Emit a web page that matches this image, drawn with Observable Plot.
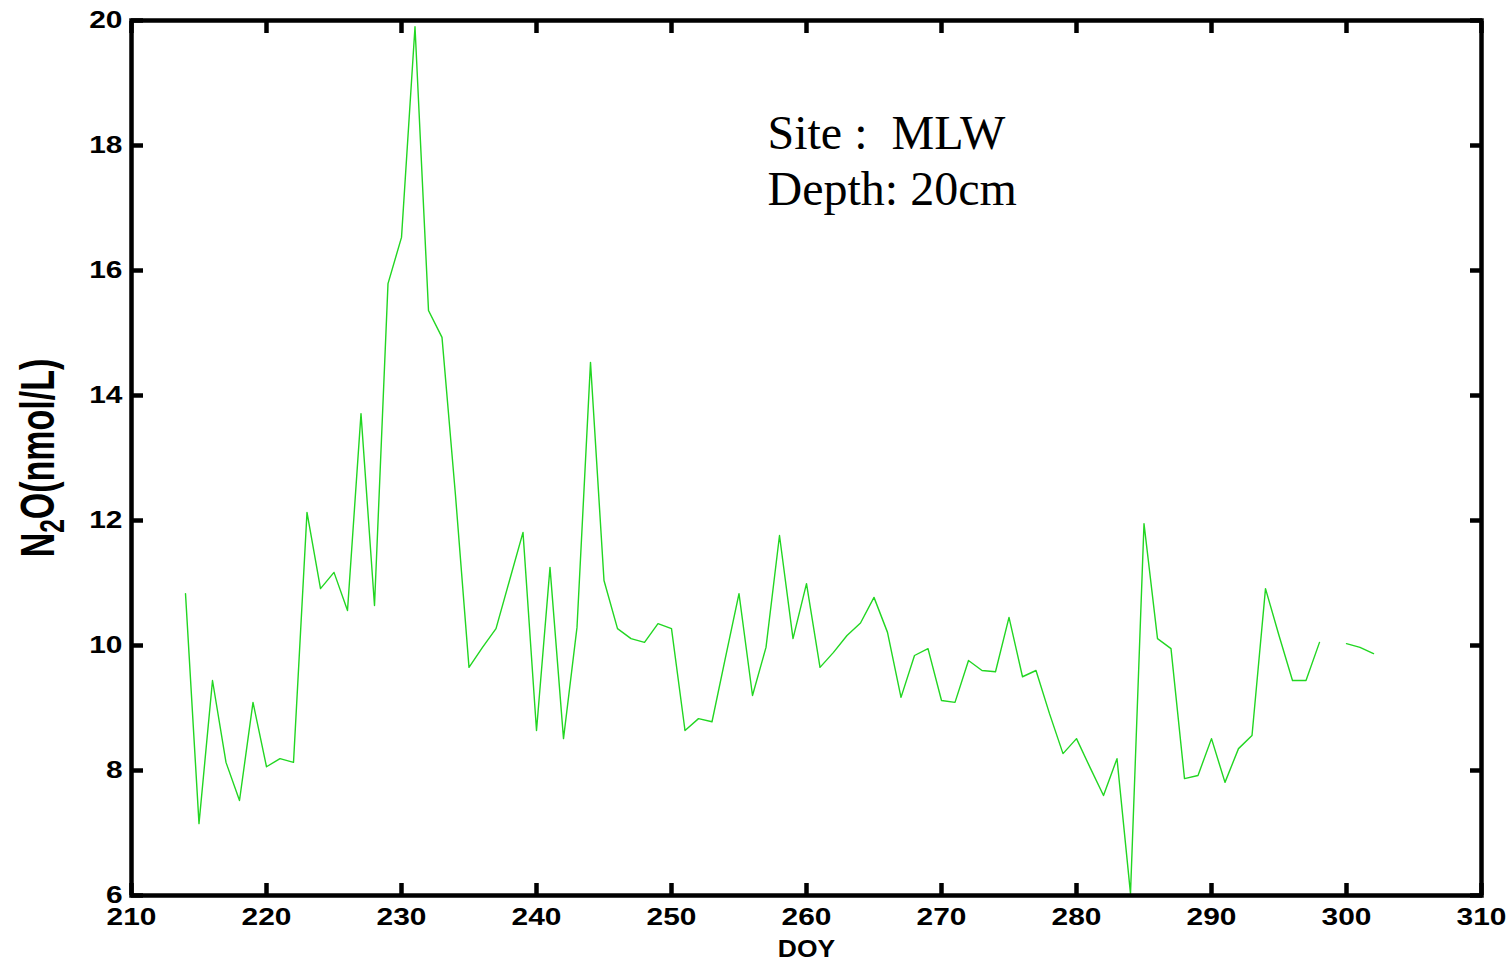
<!DOCTYPE html>
<html>
<head>
<meta charset="utf-8">
<script src="https://cdn.jsdelivr.net/npm/d3@7"></script>
<script src="https://cdn.jsdelivr.net/npm/@observablehq/plot@0.6"></script>
<style>
  html, body { margin: 0; padding: 0; background: #fff; }
  #chart svg { display: block; }
</style>
</head>
<body>
<div id="chart"></div>
<script>
// Day of year (DOY) and N2O concentration (nmol/L); DOY 299 missing (gap in line)
const doy = [214,215,216,217,218,219,220,221,222,223,224,225,226,227,228,229,230,231,232,233,
  234,235,236,237,238,239,240,241,242,243,244,245,246,247,248,249,250,251,252,253,
  254,255,256,257,258,259,260,261,262,263,264,265,266,267,268,269,270,271,272,273,
  274,275,276,277,278,279,280,281,282,283,284,285,286,287,288,289,290,291,292,293,
  294,295,296,297,298,299,300,301,302];
const n2o = [10.83,7.15,9.44,8.13,7.52,9.09,8.06,8.19,8.13,12.13,10.91,11.17,10.56,13.71,10.64,15.79,16.53,19.9,15.36,14.93,
  12.4,9.65,9.97,10.27,11.04,11.81,8.64,11.25,8.51,10.29,14.53,11.04,10.27,10.11,10.05,10.35,10.27,8.64,8.83,8.78,
  9.81,10.83,9.2,9.97,11.76,10.11,10.99,9.65,9.89,10.16,10.36,10.77,10.21,9.17,9.84,9.95,9.12,9.09,9.76,9.6,
  9.58,10.45,9.5,9.6,8.91,8.27,8.51,8.05,7.6,8.19,6.03,11.95,10.11,9.95,7.87,7.92,8.51,7.81,8.35,8.56,
  10.91,10.16,9.44,9.44,10.05,null,10.03,9.97,9.87];

const xTicks = [210,220,230,240,250,260,270,280,290,300,310];
const yTicks = [6,8,10,12,14,16,18,20];
const xLabel = "DOY";
const yLabel = "N2O(nmol/L)";
const annotation = ["Site :  MLW", "Depth: 20cm"];

const data = doy.map((d, i) => ({doy: d, n2o: n2o[i]}));

const sans = "'Liberation Sans', Arial, Helvetica, sans-serif";
const tickW = 4.5;

const chart = Plot.plot({
  width: 1512,
  height: 962,
  marginLeft: 131,
  marginRight: 31,
  marginTop: 20,
  marginBottom: 67,
  style: {background: "#fff", color: "#000", fontFamily: sans, fontSize: "23px", fontWeight: "bold"},
  x: {domain: [210, 310]},
  y: {domain: [6, 20]},
  marks: [
    Plot.line(data, {x: "doy", y: "n2o", stroke: "#22d622", strokeWidth: 1.4}),
    // tick labels
    Plot.axisX({anchor: "bottom", ticks: xTicks, tickSize: 0, tickPadding: 13, label: null, fontSize: 23, fontWeight: "bold"}),
    Plot.axisY({anchor: "left", ticks: yTicks, tickSize: 0, tickPadding: 9, label: null, fontSize: 23, fontWeight: "bold"}),
    // inward ticks on all four sides
    Plot.axisX({anchor: "bottom", ticks: xTicks, tickSize: -12, strokeWidth: tickW, tickFormat: () => "", label: null}),
    Plot.axisX({anchor: "top", ticks: xTicks, tickSize: -12, strokeWidth: tickW, tickFormat: () => "", label: null}),
    Plot.axisY({anchor: "left", ticks: yTicks, tickSize: -12, strokeWidth: tickW, tickFormat: () => "", label: null}),
    Plot.axisY({anchor: "right", ticks: yTicks, tickSize: -12, strokeWidth: tickW, tickFormat: () => "", label: null}),
    Plot.frame({stroke: "#000", strokeWidth: tickW}),
    // axis titles
    Plot.text([yLabel], {text: d => d, frameAnchor: "left", textAnchor: "middle", rotate: -90, dx: -93, fontSize: 34, fontWeight: "bold", fontFamily: sans}),
    Plot.text([xLabel], {text: d => d, frameAnchor: "bottom", dy: 61, fontSize: 23, fontWeight: "bold", fontFamily: sans}),
    // annotation
    Plot.text([annotation.join("\n")], {text: d => d, frameAnchor: "top-left", textAnchor: "start", lineAnchor: "top",
      dx: 636, dy: 88, lineHeight: 1.18, fontSize: 48, fontWeight: "normal",
      fontFamily: "'Liberation Serif', 'Times New Roman', Times, serif"})
  ]
});

document.getElementById("chart").appendChild(chart);

// Horizontal stretch of the bold tick labels, as in the original figure
const svg = d3.select(chart);
svg.selectAll('g[aria-label="x-axis tick label"] text, g[aria-label="y-axis tick label"] text').each(function() {
  const t = this.getAttribute("transform") || "";
  this.setAttribute("transform", t + " scale(1.3,1)");
});
svg.selectAll("text").each(function() {
  const txt = this.textContent;
  if (txt === xLabel) {
    const t = this.getAttribute("transform") || "";
    this.setAttribute("transform", t + " scale(1.15,1)");
  } else if (txt === yLabel) {
    const el = d3.select(this);
    const t = this.getAttribute("transform") || "";
    this.setAttribute("transform", t + " scale(1,1.42)");
    el.text(null);
    el.append("tspan").text(yLabel.slice(0, 1));
    el.append("tspan").attr("font-size", "0.72em").attr("dy", "0.3em").text(yLabel.slice(1, 2));
    el.append("tspan").attr("dy", "-0.22em").text(yLabel.slice(2));
  }
});
</script>
</body>
</html>
